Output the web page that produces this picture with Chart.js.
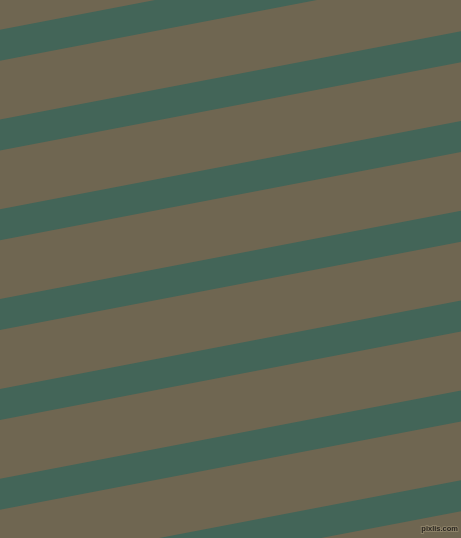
<!DOCTYPE html>
<html>
<head>
<meta charset="utf-8">
<script src="https://cdn.jsdelivr.net/npm/chart.js@4/dist/chart.umd.min.js"></script>
<style>
  html, body { margin: 0; padding: 0; background: #6f6651; overflow: hidden; }
  #wrap { width: 461px; height: 538px; }
</style>
</head>
<body>
<div id="wrap"><canvas id="myChart" width="461" height="538"></canvas></div>
<script>
// ends of each stripe (left and right side of the picture)
const edgeX = [0, 461];
// top edge of each stripe where it meets the left side / the right side
const stripeTopLeft = [-60.1, 29.7, 119.5, 209.3, 299.1, 388.9, 478.7, 568.5];
const stripeTopRight = [-148.4, -58.6, 31.2, 121.0, 210.8, 300.6, 390.4, 480.2];
// vertical thickness of every stripe
const stripeThickness = [31, 31, 31, 31, 31, 31, 31, 31];

const fondo = '#6f6651';
const colorFranja = '#436558';

// Build the datasets: top edge + bottom edge filled between them
const datasets = [];
stripeTopLeft.forEach(function (izq, i) {
    const der = stripeTopRight[i];
    const grosor = stripeThickness[i];
    datasets.push({
        data: [{ x: edgeX[0], y: izq }, { x: edgeX[1], y: der }],
        borderWidth: 0,
        pointRadius: 0,
        fill: false
    });
    datasets.push({
        data: [{ x: edgeX[0], y: izq + grosor }, { x: edgeX[1], y: der + grosor }],
        borderWidth: 0,
        pointRadius: 0,
        backgroundColor: colorFranja,
        fill: '-1'
    });
});

// marca de agua abajo a la derecha
const marcaAgua = {
    id: 'marcaAgua',
    afterDraw: function (chart) {
        const ctx = chart.ctx;
        ctx.save();
        ctx.font = 'bold 7.5px "Liberation Sans"';
        ctx.textAlign = 'right';
        ctx.textBaseline = 'alphabetic';
        ctx.lineWidth = 2;
        ctx.strokeStyle = '#8c8168';
        ctx.strokeText('pixlis.com', 458, 531);
        ctx.fillStyle = '#2a2620';
        ctx.fillText('pixlis.com', 458, 531);
        ctx.restore();
    }
};

const ctx = document.getElementById('myChart').getContext('2d');
const myChart = new Chart(ctx, {
    type: 'line',
    data: { datasets: datasets },
    options: {
        responsive: false,
        animation: false,
        layout: { padding: 0 },
        scales: {
            x: { type: 'linear', min: 0, max: 461, display: false },
            y: { type: 'linear', min: 0, max: 538, reverse: true, display: false }
        },
        plugins: {
            legend: { display: false },
            tooltip: { enabled: false },
            filler: { propagate: false }
        }
    },
    plugins: [marcaAgua]
});
</script>
</body>
</html>
